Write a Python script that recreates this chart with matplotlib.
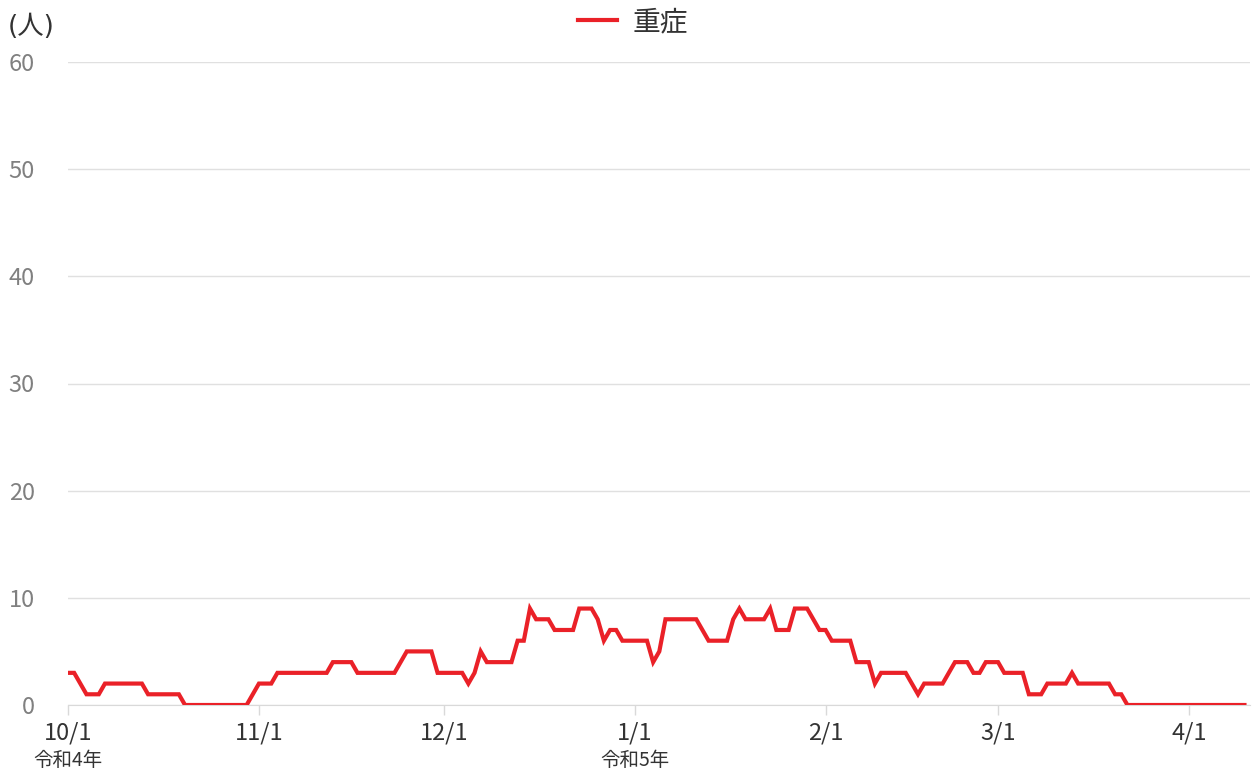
import numpy as np
import pandas as pd
import matplotlib
matplotlib.use("Agg")
import matplotlib.pyplot as plt
import matplotlib.dates as mdates
import matplotlib.transforms as mtransforms

plt.rcParams['font.family'] = ['Noto Sans CJK JP', 'DejaVu Sans']

# daily counts of severe cases, 2022-10-01 .. 2023-04-10
start = "2022-10-01"
severe = [
    3, 3, 2, 1, 1, 1, 2, 2, 2, 2, 2, 2, 2, 1, 1, 1, 1, 1, 1, 0,   # 10/1 - 10/20
    0, 0, 0, 0, 0, 0, 0, 0, 0, 0, 1, 2, 2, 2, 3, 3, 3, 3, 3, 3,   # 10/21 - 11/9
    3, 3, 3, 4, 4, 4, 4, 3, 3, 3, 3, 3, 3, 3, 4, 5, 5, 5, 5, 5,   # 11/10 - 11/29
    3, 3, 3, 3, 3, 2, 3, 5, 4, 4, 4, 4, 4, 6, 6, 9, 8, 8, 8, 7,   # 11/30 - 12/19
    7, 7, 7, 9, 9, 9, 8, 6, 7, 7, 6, 6, 6, 6, 6, 4, 5, 8, 8, 8,   # 12/20 - 1/8
    8, 8, 8, 7, 6, 6, 6, 6, 8, 9, 8, 8, 8, 8, 9, 7, 7, 7, 9, 9,   # 1/9 - 1/28
    9, 8, 7, 7, 6, 6, 6, 6, 4, 4, 4, 2, 3, 3, 3, 3, 3, 2, 1, 2,   # 1/29 - 2/17
    2, 2, 2, 3, 4, 4, 4, 3, 3, 4, 4, 4, 3, 3, 3, 3, 1, 1, 1, 2,   # 2/18 - 3/9
    2, 2, 2, 3, 2, 2, 2, 2, 2, 2, 1, 1, 0, 0, 0, 0, 0, 0, 0, 0,   # 3/10 - 3/29
    0, 0, 0, 0, 0, 0, 0, 0, 0, 0, 0, 0,                           # 3/30 - 4/10
]
dates = pd.date_range(start, periods=len(severe), freq="D")

month_ticks = ["2022-10-01", "2022-11-01", "2022-12-01", "2023-01-01",
               "2023-02-01", "2023-03-01", "2023-04-01"]
month_labels = ["10/1", "11/1", "12/1", "1/1", "2/1", "3/1", "4/1"]
era_ticks = ["2022-10-01", "2023-01-01"]
era_labels = ["令和4年", "令和5年"]
y_ticks = [0, 10, 20, 30, 40, 50, 60]

fig = plt.figure(figsize=(12.52, 7.74), dpi=100)
ax = fig.add_axes([68 / 1252, 1 - 705 / 774, (1250 - 68) / 1252, (705 - 62) / 774])

ax.plot(dates, severe, color="#ea2128", linewidth=3.0, solid_joinstyle="miter",
        label="重症", zorder=3)

ax.set_xlim(pd.Timestamp(start), pd.Timestamp(start) + pd.Timedelta(days=191.9))
ax.set_ylim(0, 60)
ax.set_yticks(y_ticks)
ax.yaxis.grid(True, color="#e0e0e0", linewidth=1)
ax.set_axisbelow(True)

ax.set_xticks(pd.to_datetime(month_ticks))
ax.set_xticklabels(month_labels)
ax.tick_params(axis="x", length=7, color="#d9d9d9", width=1, pad=5,
               labelsize=17, labelcolor="#333333")
ax.tick_params(axis="y", length=0, pad=24, labelsize=17, labelcolor="#808080")

for s in ["top", "right", "left"]:
    ax.spines[s].set_visible(False)
ax.spines["bottom"].set_color("#d9d9d9")

trans = mtransforms.blended_transform_factory(ax.transData, ax.transAxes)
for d, lab in zip(era_ticks, era_labels):
    ax.text(mdates.date2num(pd.Timestamp(d)), -0.087, lab, transform=trans,
            ha="center", va="center", fontsize=14, color="#333333")

fig.text(8 / 1252, 1 - 27 / 774, "(人)", ha="left", va="center",
         fontsize=19, color="#333333", family=['DejaVu Sans', 'Noto Sans CJK JP'])
fig.legend(loc="center", bbox_to_anchor=(633 / 1252, 1 - 22 / 774), frameon=False,
           fontsize=20, handlelength=1.4, handletextpad=0.55, labelcolor="#333333")

fig.savefig("out.png", dpi=100)
